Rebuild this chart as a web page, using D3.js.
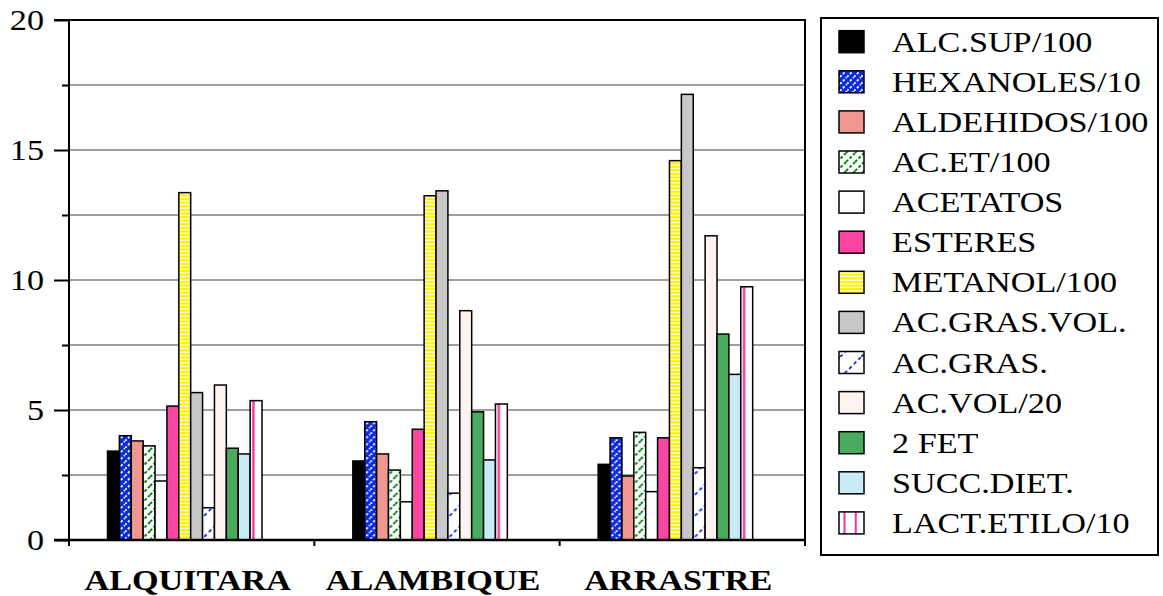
<!DOCTYPE html>
<html>
<head>
<meta charset="utf-8">
<script src="https://cdn.jsdelivr.net/npm/d3@7"></script>
<style>
  html, body { margin: 0; padding: 0; background: #fff; }
  svg { display: block; }
</style>
</head>
<body>
<svg id="chart" width="1163" height="596"></svg>
<script>
// ---- data ----
const groups = ["ALQUITARA", "ALAMBIQUE", "ARRASTRE"];
const seriesNames = ["ALC.SUP/100", "HEXANOLES/10", "ALDEHIDOS/100", "AC.ET/100", "ACETATOS",
  "ESTERES", "METANOL/100", "AC.GRAS.VOL.", "AC.GRAS.", "AC.VOL/20", "2 FET", "SUCC.DIET.", "LACT.ETILO/10"];
const alquitara = [3.42, 4.01, 3.81, 3.62, 2.27, 5.15, 13.36, 5.67, 1.24, 5.96, 3.53, 3.31, 5.36];
const alambique = [3.04, 4.55, 3.31, 2.69, 1.47, 4.26, 13.24, 13.43, 1.80, 8.82, 4.93, 3.08, 5.23];
const arrastre  = [2.91, 3.93, 2.46, 4.14, 1.86, 3.93, 14.59, 17.14, 2.78, 11.70, 7.92, 6.37, 9.74];
const yMajorTicks = [0, 5, 10, 15, 20];
const yMinorTicks = [2.5, 7.5, 12.5, 17.5];

const groupValues = [alquitara, alambique, arrastre];

// ---- styles ----
const fills = ["#000000", "url(#hexPat)", "#f0988f", "url(#acetPat)", "#ffffff",
  "#fa46a2", "url(#metPat)", "#c8c8c8", "url(#grasPat)", "#fff3f1", "#4aaa5e", "#c9ebf7", "url(#lactBar)"];
const legendFills = fills.map((f, i) => i === 12 ? "url(#lactLeg)" : f);

const svg = d3.select("#chart");
const defs = svg.append("defs");

{
  const p = defs.append("pattern").attr("id", "hexPat").attr("patternUnits", "userSpaceOnUse")
    .attr("width", 7).attr("height", 7);
  p.append("rect").attr("width", 7).attr("height", 7).attr("fill", "#0b2ae4");
  p.append("path").attr("d", "M-1.75,1.75 L1.75,-1.75 M0,7 L7,0 M5.25,8.75 L8.75,5.25")
    .attr("stroke", "#fff").attr("stroke-width", 1.8).attr("stroke-dasharray", "2.2 2");
}
{
  const p = defs.append("pattern").attr("id", "acetPat").attr("patternUnits", "userSpaceOnUse")
    .attr("width", 9).attr("height", 9);
  p.append("rect").attr("width", 9).attr("height", 9).attr("fill", "#fff");
  p.append("path").attr("d", "M-2,2 L2,-2 M0,9 L9,0 M7,11 L11,7")
    .attr("stroke", "#008a10").attr("stroke-width", 2).attr("stroke-dasharray", "3 2");
}
{
  const p = defs.append("pattern").attr("id", "metPat").attr("patternUnits", "userSpaceOnUse")
    .attr("width", 4).attr("height", 3.6);
  p.append("rect").attr("width", 4).attr("height", 3.6).attr("fill", "#fff");
  p.append("rect").attr("width", 4).attr("height", 2.3).attr("fill", "#fff000");
}
{
  const p = defs.append("pattern").attr("id", "grasPat").attr("patternUnits", "userSpaceOnUse")
    .attr("width", 21).attr("height", 21);
  p.append("rect").attr("width", 21).attr("height", 21).attr("fill", "#fff");
  p.append("path").attr("d", "M0,21 L21,0")
    .attr("stroke", "#1030e0").attr("stroke-width", 1.8).attr("stroke-dasharray", "3.5 3");
}
{
  const p = defs.append("pattern").attr("id", "lactBar").attr("patternUnits", "objectBoundingBox")
    .attr("patternContentUnits", "objectBoundingBox").attr("width", 1).attr("height", 1);
  p.append("rect").attr("width", 1).attr("height", 1).attr("fill", "#fff");
  p.append("rect").attr("x", 0.18).attr("width", 0.2).attr("height", 1).attr("fill", "#f2349c");
  const q = defs.append("pattern").attr("id", "lactLeg").attr("patternUnits", "objectBoundingBox")
    .attr("patternContentUnits", "objectBoundingBox").attr("width", 1).attr("height", 1);
  q.append("rect").attr("width", 1).attr("height", 1).attr("fill", "#fff");
  q.append("rect").attr("x", 0.18).attr("width", 0.08).attr("height", 1).attr("fill", "#f2349c");
  q.append("rect").attr("x", 0.63).attr("width", 0.08).attr("height", 1).attr("fill", "#f2349c");
}

// ---- scales ----
const plotLeft = 69, plotRight = 805, plotTop = 20, plotBottom = 540;
const y = d3.scaleLinear().domain([0, 20]).range([plotBottom, plotTop]);
const x0 = d3.scaleBand().domain(groups).range([plotLeft, plotRight]).padding(0);
const x1 = d3.scaleBand().domain(seriesNames).range([38.5, 193]).padding(0);

// Text is drawn in a Times-like face and stretched horizontally, as in the original
const SX = 1.14;
function stretchedText(sel, x, yy, txt, anchor) {
  return sel.append("text")
    .attr("transform", `translate(${x},${yy}) scale(${SX},1)`)
    .attr("text-anchor", anchor || "start")
    .style("font-family", '"Liberation Serif"')
    .attr("fill", "#000")
    .text(txt);
}

// ---- gridlines ----
const gridVals = yMinorTicks.concat([5, 10, 15]);
svg.append("g").selectAll("line").data(gridVals).join("line")
  .attr("x1", plotLeft).attr("x2", plotRight)
  .attr("y1", d => y(d)).attr("y2", d => y(d))
  .attr("stroke", "#9e9e9e").attr("stroke-width", 2);

// ---- bars ----
const gBars = svg.append("g");
groups.forEach((g, gi) => {
  const vals = groupValues[gi];
  gBars.append("g").attr("transform", `translate(${x0(g)},0)`)
    .selectAll("rect").data(vals).join("rect")
    .attr("x", (d, i) => x1(seriesNames[i]))
    .attr("width", x1.bandwidth())
    .attr("y", d => y(d))
    .attr("height", d => y(0) - y(d))
    .attr("fill", (d, i) => fills[i])
    .attr("stroke", "#000")
    .attr("stroke-width", 1.5);
});

// ---- frame: top and right borders ----
svg.append("line").attr("x1", 54).attr("x2", plotRight + 1).attr("y1", y(20)).attr("y2", y(20))
  .attr("stroke", "#000").attr("stroke-width", 2);
svg.append("line").attr("x1", plotRight).attr("x2", plotRight).attr("y1", y(20)).attr("y2", plotBottom + 6)
  .attr("stroke", "#000").attr("stroke-width", 2);

// ---- y axis ----
const yAxisMajor = d3.axisLeft(y).tickValues(yMajorTicks).tickSize(15).tickFormat("");
const yAxisMinor = d3.axisLeft(y).tickValues(yMinorTicks).tickSize(7).tickFormat("");
const ga = svg.append("g").attr("transform", `translate(${plotLeft},0)`).call(yAxisMajor);
const gm = svg.append("g").attr("transform", `translate(${plotLeft},0)`).call(yAxisMinor);
[ga, gm].forEach(g => {
  g.select(".domain").remove();
  g.selectAll("line").attr("stroke", "#000").attr("stroke-width", 2);
});
svg.append("line").attr("x1", plotLeft).attr("x2", plotLeft).attr("y1", plotTop - 1).attr("y2", plotBottom + 6)
  .attr("stroke", "#000").attr("stroke-width", 2);

const yLab = svg.append("g").attr("font-size", 30);
yMajorTicks.forEach(t => stretchedText(yLab, 44, y(t) + 10, String(t), "end"));

// ---- x axis ----
const xBoundaries = groups.map(g => x0(g)).concat([plotRight]);
svg.append("g").selectAll("line").data(xBoundaries).join("line")
  .attr("x1", d => d).attr("x2", d => d).attr("y1", plotBottom).attr("y2", plotBottom + 6)
  .attr("stroke", "#000").attr("stroke-width", 2);
svg.append("line").attr("x1", 54).attr("x2", plotRight + 1).attr("y1", plotBottom).attr("y2", plotBottom)
  .attr("stroke", "#000").attr("stroke-width", 2.5);

const xLab = svg.append("g").attr("font-size", 30).attr("font-weight", "bold");
groups.forEach(g => stretchedText(xLab, x0(g) + x0.bandwidth() / 2 - 4, 590, g, "middle"));

// ---- legend ----
const leg = svg.append("g").attr("font-size", 30);
leg.append("rect").attr("x", 821).attr("y", 18).attr("width", 337).attr("height", 537)
  .attr("fill", "#fff").attr("stroke", "#000").attr("stroke-width", 2);
const rowY = i => 41.7 + i * 40.1;
seriesNames.forEach((name, i) => {
  leg.append("rect").attr("x", 839).attr("y", rowY(i) - 11).attr("width", 25).attr("height", 22)
    .attr("fill", legendFills[i]).attr("stroke", "#000").attr("stroke-width", 1.5);
  stretchedText(leg, 892, rowY(i) + 10, name, "start");
});
</script>
</body>
</html>
